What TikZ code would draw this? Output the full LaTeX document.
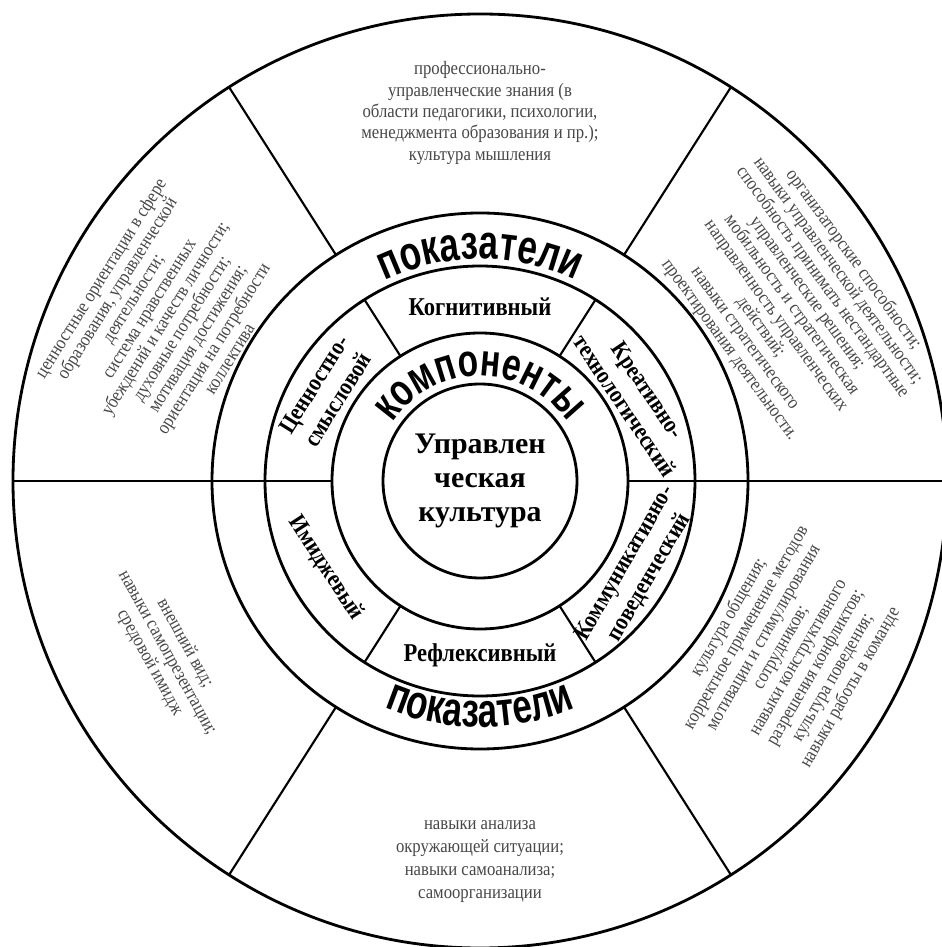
\documentclass[tikz,border=0pt]{standalone}
\usepackage{fontspec}
\setmainfont{Liberation Serif}
\newfontfamily\narrowserif{Liberation Serif}[FakeStretch=0.88]
\newfontfamily\ringsans{Liberation Sans}[FakeStretch=0.73]
\usetikzlibrary{decorations.text}

\newcommand{\ringfont}{\ringsans\bfseries\fontsize{27.3}{30}\selectfont}
\newcommand{\compfont}{\ringsans\bfseries\fontsize{26}{30}\selectfont}

\begin{document}
\begin{tikzpicture}[scale=2,
  ring/.style={line width=1.6pt},
  divider/.style={line width=1.2pt},
  complabel/.style={font=\narrowserif\bfseries\fontsize{#1}{16}\selectfont, align=center, inner sep=0pt},
  complabel/.default=14.6,
  indtext/.style={font=\narrowserif\fontsize{10.8}{#1}\selectfont, align=center, text=black!72, inner sep=0pt},
  indtext/.default=12.2]
  \useasboundingbox (-4.80,-4.66) rectangle (4.61,4.81);

  % Rings
  \draw[ring] (0,0) circle (0.97);
  \draw[ring] (0,0) circle (1.48);
  \draw[ring] (0,0) circle (2.15);
  \draw[ring] (0,0) circle (2.68);
  \draw[ring] (0,0) circle (4.67);

  % Dividers (components ring)
  \draw[divider] (57.5:1.48) -- (57.5:2.15);
  \draw[divider] (122.5:1.48) -- (122.5:2.15);
  \draw[divider] (-57.5:1.48) -- (-57.5:2.15);
  \draw[divider] (-122.5:1.48) -- (-122.5:2.15);

  % Dividers (indicators ring)
  \draw[divider] (57.5:2.68) -- (57.5:4.67);
  \draw[divider] (122.5:2.68) -- (122.5:4.67);
  \draw[divider] (-57.5:2.68) -- (-57.5:4.67);
  \draw[divider] (-122.5:2.68) -- (-122.5:4.67);
  \draw[divider] (0:1.48) -- (0:4.67);
  \draw[divider] (180:1.48) -- (180:4.67);

  % Centre
  \node[font=\bfseries\fontsize{17}{19.4}\selectfont, align=center, inner sep=0pt] (kultura) at (0,0) {Управлен\\ческая\\культура};

  % Curved headings
  \path[decorate, decoration={text along path, text align=center, text={|\compfont|компоненты}}]
    (170:1.05) arc[start angle=170, end angle=10, radius=1.05];
  \path[decorate, decoration={text along path, text align=center, text={|\ringfont|показатели}}]
    (150:2.22) arc[start angle=150, end angle=30, radius=2.22];
  \path[decorate, decoration={text along path, text align=center, text={|\ringfont|показатели}}]
    (210:2.46) arc[start angle=210, end angle=330, radius=2.46];

  % Components
  \node[complabel] (kogn) at (0,1.74) {Когнитивный};
  \node[complabel] (refl) at (0,-1.74) {Рефлексивный};
  \node[complabel=13.7, rotate=58] (cenn) at (150:1.78) {Ценностно-\\смысловой};
  \node[complabel=13.7, rotate=-56] (kreat) at (28:1.77) {Креативно-\\технологический};
  \node[complabel=13.7, rotate=-57] (imidzh) at (209.5:1.77) {Имиджевый};
  \node[complabel=13.7, rotate=60] (kommun) at (-29.6:1.81) {Коммуникативно-\\поведенческий};

  % Indicators
  \node[indtext] (kogn-ind) at (0,3.68) {профессионально-\\управленческие знания (в\\области педагогики, психологии,\\менеджмента образования и пр.);\\культура мышления};
  \node[indtext=10.9, rotate=-54] (kreat-ind) at (29.5:3.58) {организаторские способности;\\навыки управленческой деятельности;\\способность принимать нестандартные\\управленческие решения;\\мобильность и стратегическая\\направленность управленческих\\действий;\\навыки стратегического\\проектирования деятельности.};
  \node[indtext=10.8, rotate=58] (cenn-ind) at (152.7:3.55) {ценностные ориентации в сфере\\образования, управленческой\\деятельности;\\система нравственных\\убеждений и качеств личности;\\духовные потребности;\\мотивация достижения;\\ориентация на потребности\\коллектива};
  \node[indtext=11.4, rotate=-61] (imidzh-ind) at (208.8:3.57) {внешний вид;\\навыки самопрезентации;\\средовой имидж};
  \node[indtext=11.4, rotate=60] (kommun-ind) at (-29:3.54) {культура общения;\\корректное применение методов\\мотивации и стимулирования\\сотрудников;\\навыки конструктивного\\разрешения конфликтов;\\культура поведения;\\навыки работы в команде};
  \node[indtext=13.1] (refl-ind) at (0,-3.81) {навыки анализа\\окружающей ситуации;\\навыки самоанализа;\\самоорганизации};
\end{tikzpicture}
\end{document}
